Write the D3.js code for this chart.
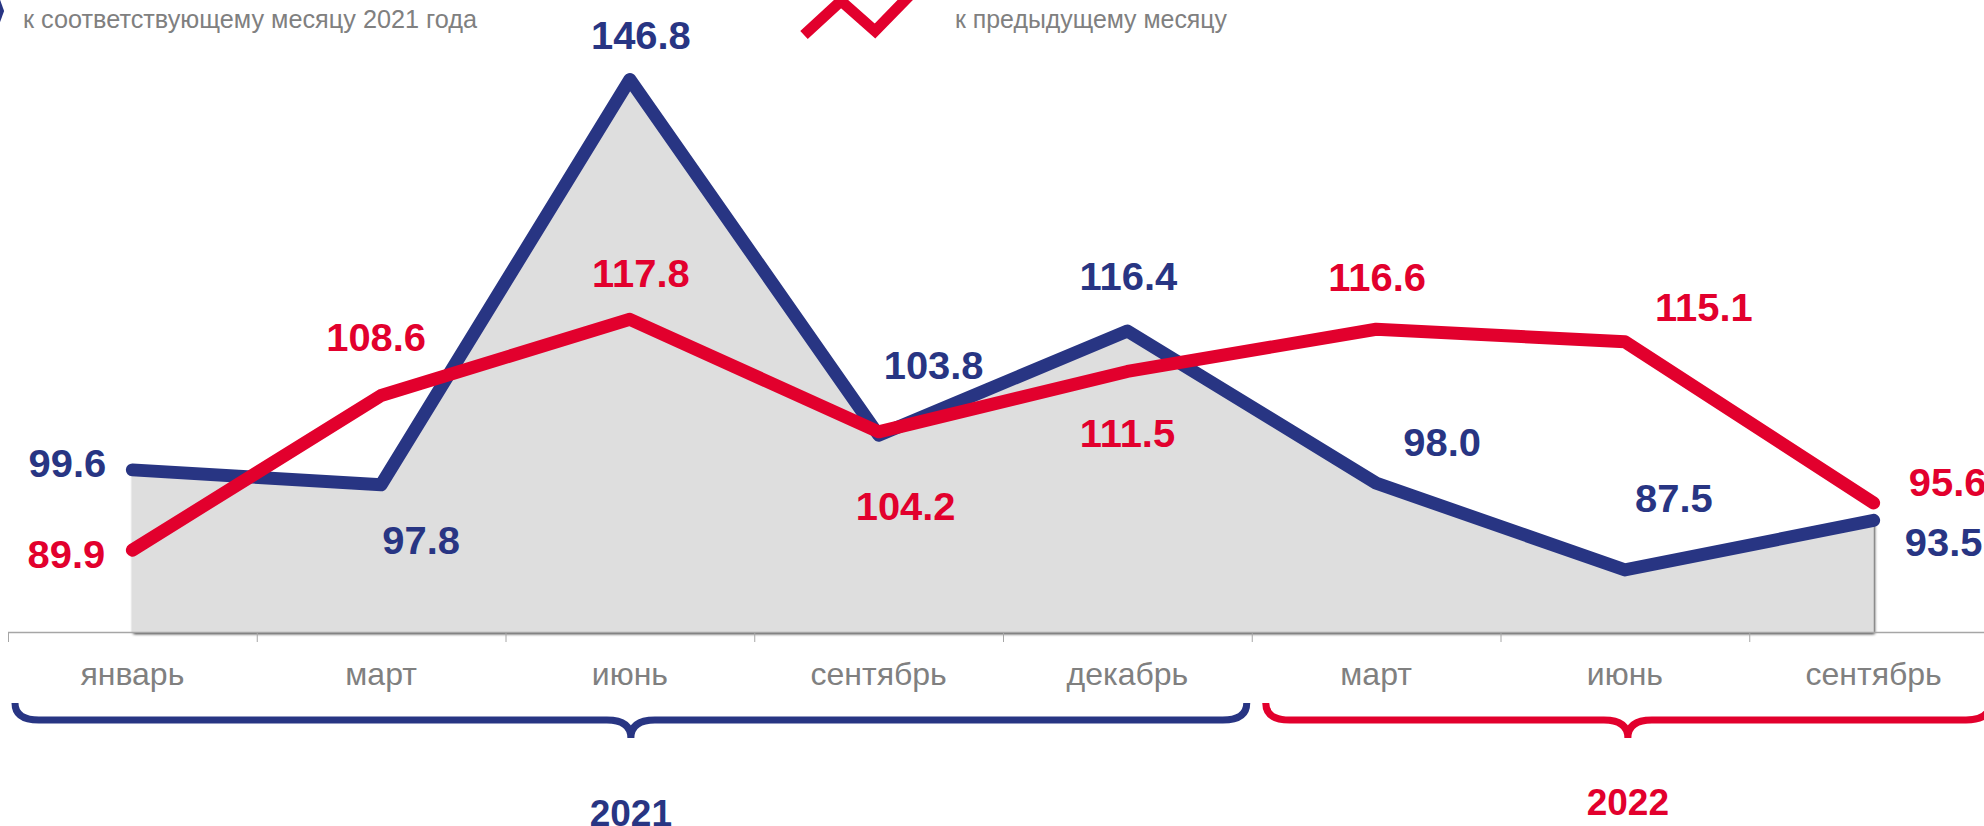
<!DOCTYPE html>
<html>
<head>
<meta charset="utf-8">
<script src="https://cdn.jsdelivr.net/npm/d3@7"></script>
<style>
  body { margin: 0; background: #fff; }
  svg { display: block; font-family: "Liberation Sans", Arial, sans-serif; }
</style>
</head>
<body>
<svg id="chart" width="1984" height="826"></svg>
<script>
// data
const periods = ["2021-01", "2021-03", "2021-06", "2021-09", "2021-12", "2022-03", "2022-06", "2022-09"];
const monthLabels = ["январь", "март", "июнь", "сентябрь", "декабрь", "март", "июнь", "сентябрь"];
const yoy = [99.6, 97.8, 146.8, 103.8, 116.4, 98.0, 87.5, 93.5];   // к соответствующему месяцу 2021 года
const mom = [89.9, 108.6, 117.8, 104.2, 111.5, 116.6, 115.1, 95.6]; // к предыдущему месяцу
const years = ["2021", "2022"];
const yearFirst = ["2021-01", "2022-03"];
const yearLast = ["2021-12", "2022-09"];
const legendLabels = ["к соответствующему месяцу 2021 года", "к предыдущему месяцу"];

const blue = "#283583";
const red = "#e2002d";
const grey = "#808080";

// label placement (offset from the point, px)
const yoyOffsets = [[-65, 7], [40, 69], [11, -30], [55, -56], [1, -41], [66, -27], [49, -58], [70, 36]];
const momOffsets = [[-66, 18], [-5, -44], [11, -32], [27, 88], [0, 76], [1, -38], [79, -21], [74, -7]];

const svg = d3.select("#chart");

const x = d3.scaleBand().domain(periods).range([8, 1998]).padding(0);
const y = d3.scaleLinear().domain([80, 150]).range([632, 53]);
const cx = (p) => x(p) + x.bandwidth() / 2;

// shadow for the shaded area
const defs = svg.append("defs");
const f = defs.append("filter").attr("id", "shadow")
    .attr("x", "-5%").attr("y", "-5%").attr("width", "110%").attr("height", "110%");
f.append("feGaussianBlur").attr("in", "SourceAlpha").attr("stdDeviation", 1.4).attr("result", "b");
f.append("feOffset").attr("in", "b").attr("dx", 1).attr("dy", 2).attr("result", "o");
f.append("feComponentTransfer").attr("in", "o").attr("result", "s")
    .append("feFuncA").attr("type", "linear").attr("slope", 0.85);
const m = f.append("feMerge");
m.append("feMergeNode").attr("in", "s");
m.append("feMergeNode").attr("in", "SourceGraphic");

// area under the yoy series
const area = d3.area()
    .x((d, i) => cx(periods[i]))
    .y0(y(80))
    .y1(d => y(d));
svg.append("path")
    .datum(yoy)
    .attr("d", area)
    .attr("fill", "#dedede")
    .attr("filter", "url(#shadow)");

// x axis: line + ticks at the band edges
svg.append("line")
    .attr("x1", 8).attr("x2", 1984)
    .attr("y1", y(80) + 0.5).attr("y2", y(80) + 0.5)
    .attr("stroke", "#a6a6a6").attr("stroke-width", 1.5);

svg.append("g").selectAll("line")
    .data(periods)
    .join("line")
    .attr("x1", d => x(d) + 0.5).attr("x2", d => x(d) + 0.5)
    .attr("y1", y(80)).attr("y2", y(80) + 10)
    .attr("stroke", "#a6a6a6").attr("stroke-width", 1);

const axis = svg.append("g")
    .attr("transform", `translate(0,${y(80)})`)
    .call(d3.axisBottom(x).tickSize(0).tickPadding(30).tickFormat((d, i) => monthLabels[i]));
axis.select(".domain").remove();
axis.selectAll("text")
    .attr("font-family", "'Liberation Sans', Arial, sans-serif")
    .attr("font-size", 32)
    .attr("fill", grey);

// lines
const line = d3.line()
    .x((d, i) => cx(periods[i]))
    .y(d => y(d));

svg.append("path")
    .datum(yoy)
    .attr("d", line)
    .attr("fill", "none")
    .attr("stroke", blue)
    .attr("stroke-width", 13)
    .attr("stroke-linejoin", "round")
    .attr("stroke-linecap", "round");

svg.append("path")
    .datum(mom)
    .attr("d", line)
    .attr("fill", "none")
    .attr("stroke", red)
    .attr("stroke-width", 13)
    .attr("stroke-linejoin", "round")
    .attr("stroke-linecap", "round");

// value labels
const addLabels = (values, offsets, color) => {
    svg.append("g").selectAll("text")
        .data(values)
        .join("text")
        .attr("transform", (d, i) =>
            `translate(${cx(periods[i]) + offsets[i][0]},${y(d) + offsets[i][1]}) scale(1.05,1)`)
        .attr("text-anchor", "middle")
        .attr("font-size", 38)
        .attr("font-weight", "bold")
        .attr("fill", color)
        .text(d => d.toFixed(1));
};
addLabels(yoy, yoyOffsets, blue);
addLabels(mom, momOffsets, red);

// year braces
const brace = (x0, x1, top, mid, tip) => {
    const c = (x0 + x1) / 2;
    const r = 24;
    return `M${x0},${top} Q${x0},${mid} ${x0 + r},${mid} L${c - r},${mid} Q${c},${mid} ${c},${tip}` +
        ` Q${c},${mid} ${c + r},${mid} L${x1 - r},${mid} Q${x1},${mid} ${x1},${top}`;
};
const braceColors = [blue, red];
const braceX0 = [7, 14];
const braceX1 = [-5, -8];

years.forEach((yr, i) => {
    const x0 = x(yearFirst[i]) + braceX0[i];
    const x1 = x(yearLast[i]) + x.bandwidth() + braceX1[i];
    svg.append("path")
        .attr("d", brace(x0, x1, 703, 720, 738))
        .attr("fill", "none")
        .attr("stroke", braceColors[i])
        .attr("stroke-width", 7);
    svg.append("text")
        .attr("x", (x0 + x1) / 2)
        .attr("y", i === 0 ? 826 : 815)
        .attr("text-anchor", "middle")
        .attr("font-size", 37)
        .attr("font-weight", "bold")
        .attr("fill", braceColors[i])
        .text(yr);
});

// legend (top, partially cut off)
svg.append("path")
    .attr("d", d3.symbol(d3.symbolDiamond, 160)())
    .attr("transform", "translate(-1,11) scale(0.75,1.2)")
    .attr("fill", blue);

svg.append("polyline")
    .attr("points", "804,35 841,1 875,31 914,-9")
    .attr("fill", "none")
    .attr("stroke", red)
    .attr("stroke-width", 11)
    .attr("stroke-linejoin", "miter");

const legendX = [23, 955];
const legendW = [454, 272];
legendLabels.forEach((t, i) => {
    svg.append("text")
        .attr("x", legendX[i])
        .attr("y", 28)
        .attr("font-size", 25)
        .attr("fill", grey)
        .attr("textLength", legendW[i])
        .attr("lengthAdjust", "spacingAndGlyphs")
        .text(t);
});
</script>
</body>
</html>
